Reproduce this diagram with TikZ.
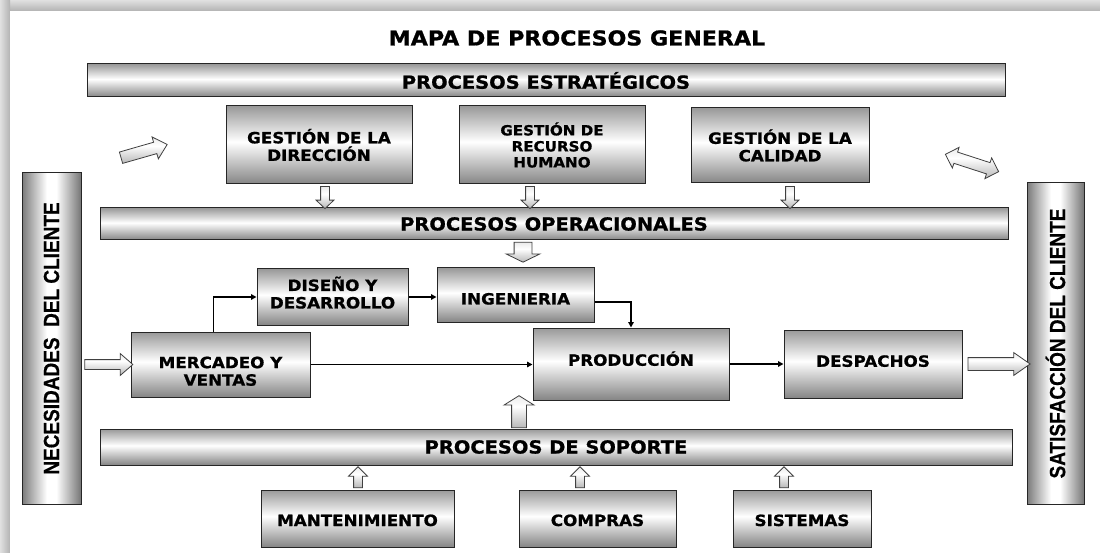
\documentclass[tikz,border=0pt]{standalone}
\usepackage{fontspec}
\usepackage{graphicx}
\newfontfamily\vfont[FakeStretch=1.08,FakeBold=1]{DejaVu Sans}
\newfontfamily\afont[FakeBold=0.6]{Liberation Sans}
\usetikzlibrary{shapes.arrows,arrows.meta,calc}
\pgfdeclareverticalshading{boxshade}{100bp}{color(0bp)=(black!48); color(25bp)=(black!48); color(52bp)=(white); color(75bp)=(black!40); color(100bp)=(black!40)}
\pgfdeclarehorizontalshading{sideshade}{100bp}{color(0bp)=(black!52); color(25bp)=(black!52); color(46bp)=(white); color(54bp)=(white); color(75bp)=(black!54); color(100bp)=(black!54)}
\pgfdeclareverticalshading{arrowshade}{100bp}{color(0bp)=(black!28); color(25bp)=(black!28); color(58bp)=(white); color(75bp)=(black!8); color(100bp)=(black!8)}
\tikzset{
  box/.style={draw=black!85, line width=1pt, shade, shading=boxshade, align=center, inner sep=0pt, text=black, font=\vfont\bfseries\fontsize{15.5}{17.5}\selectfont},
  bar/.style={box, font=\vfont\bfseries\fontsize{18}{20}\selectfont},
  sidebar/.style={draw=black!85, line width=1pt, shade, shading=sideshade},
  sidetext/.style={rotate=90, inner sep=0pt, text=black, font=\afont\bfseries\fontsize{19}{19}\selectfont},
  capsoff/.style={text height=#1, text depth=0pt},
  blk/.style n args={4}{single arrow, draw=black!75, line width=0.8pt, shade, shading=arrowshade, inner xsep=0pt, minimum width=0pt, minimum height=#1, inner ysep=#2, single arrow head extend=#3, single arrow tip angle=#4},
  dblk/.style n args={4}{double arrow, draw=black!75, line width=0.8pt, shade, shading=arrowshade, inner xsep=0pt, minimum width=0pt, minimum height=#1, inner ysep=#2, double arrow head extend=#3, double arrow tip angle=#4},
  link/.style={line width=1.5pt, -{Triangle[length=5.5pt,width=5.5pt]}}
}
\begin{document}
\begin{tikzpicture}[x=1pt,y=-1pt]
\useasboundingbox (0,0) rectangle (1100,553);
% page and shadow
\fill[white] (0,0) rectangle (1100,553);
\shade[top color=black!12, bottom color=black!30] (0,0) rectangle (1100,11);
\shade[left color=black!12, right color=black!30] (0,0) rectangle (10,553);
\fill[white] (10,11) rectangle (1100,553);

\node[font=\vfont\bfseries\fontsize{20.5}{24}\selectfont] (title) at (577,38) {MAPA DE PROCESOS GENERAL};

\node[bar, minimum width=918pt, minimum height=33pt] (estr) at (546,80.5) {PROCESOS ESTRATÉGICOS};
\node[box, minimum width=186pt, minimum height=78pt] (gdir) at (319,145) {GESTIÓN DE LA\\DIRECCIÓN};
\node[box, minimum width=186pt, minimum height=78pt, font=\vfont\bfseries\fontsize{14}{16}\selectfont] (grh) at (552,145) {GESTIÓN DE\\RECURSO\\HUMANO};
\node[box, minimum width=178pt, minimum height=75pt] (gcal) at (780,145.5) {GESTIÓN DE LA\\CALIDAD};
\node[bar, minimum width=908pt, minimum height=32pt] (oper) at (554,224) {PROCESOS OPERACIONALES};
\node[box, minimum width=151pt, minimum height=56pt] (dis) at (332.5,297) {DISEÑO Y\\DESARROLLO\rule[-9pt]{0pt}{9pt}};
\node[box, minimum width=157pt, minimum height=54pt, capsoff=19pt] (ing) at (515.5,295) {INGENIERIA};
\node[box, minimum width=179pt, minimum height=65pt] (merc) at (220.5,364.5) {\rule{0pt}{25pt}MERCADEO Y\\VENTAS};
\node[box, minimum width=196pt, minimum height=72pt, capsoff=3.5pt] (prod) at (631,364) {PRODUCCIÓN};
\node[box, minimum width=178pt, minimum height=68pt, capsoff=5.5pt] (desp) at (873,364) {DESPACHOS};
\node[bar, minimum width=912pt, minimum height=36pt] (sop) at (556,447) {PROCESOS DE SOPORTE};
\node[box, minimum width=193pt, minimum height=57pt, capsoff=15pt] (mant) at (357.5,518.5) {MANTENIMIENTO};
\node[box, minimum width=157pt, minimum height=57pt, capsoff=15pt] (comp) at (597.5,518.5) {COMPRAS};
\node[box, minimum width=138pt, minimum height=57pt, capsoff=15pt] (sist) at (802,518.5) {SISTEMAS};

\node[sidebar, minimum width=59pt, minimum height=331pt] (nec) at (51.5,338.5) {};
\node[sidetext] (nect) at (nec.center) {\scalebox{1}[1.15]{NECESIDADES\ \ DEL CLIENTE}};
\node[sidebar, minimum width=57pt, minimum height=321pt] (sat) at (1055.5,343.5) {};
\node[sidetext] (satt) at (sat.center) {\scalebox{1}[1.15]{SATISFACCIÓN DEL CLIENTE}};

% block arrows
\node[blk={48pt}{5.5pt}{5.5pt}{85}, rotate=16] (a1) at (141,152) {};
\node[dblk={56pt}{5.5pt}{5pt}{90}, rotate=-18] (a2) at (972,163) {};
\node[blk={22pt}{4pt}{4.5pt}{93}, rotate=-90] (d1) at (325,195.5) {};
\node[blk={22pt}{4pt}{4.5pt}{93}, rotate=-90] (d2) at (530,195.5) {};
\node[blk={22pt}{4pt}{4.5pt}{93}, rotate=-90] (d3) at (790,195.5) {};
\node[blk={20pt}{8.5pt}{8pt}{128}, rotate=-90] (d4) at (523,250) {};
\node[blk={32pt}{7pt}{7.5pt}{116}, rotate=90] (u1) at (519,414) {};
\node[blk={21pt}{4pt}{5pt}{90}, rotate=90] (u2) at (358,479.5) {};
\node[blk={21pt}{4pt}{5pt}{90}, rotate=90] (u3) at (580,479.5) {};
\node[blk={21pt}{4pt}{5pt}{90}, rotate=90] (u4) at (784,479.5) {};
\node[blk={48pt}{4.5pt}{6pt}{82}] (h1) at ($(nec.east |- merc.west)!0.5!(merc.west)$) {};
\node[blk={62pt}{6pt}{5pt}{70}] (h2) at ($(desp.east)!0.5!(desp.east -| sat.west)$) {};

% links
\coordinate (m1) at ($(merc.north west)!0.46!(merc.north east)$);
\draw[link] (m1) |- (dis.west);
\draw[link] (dis.east) -- (dis.east -| ing.west);
\draw[link] ([yshift=-7pt]ing.east) -| (prod.north);
\draw[link] (merc.east) -- (merc.east -| prod.west);
\draw[link] (prod.east) -- (prod.east -| desp.west);
\end{tikzpicture}
\end{document}
